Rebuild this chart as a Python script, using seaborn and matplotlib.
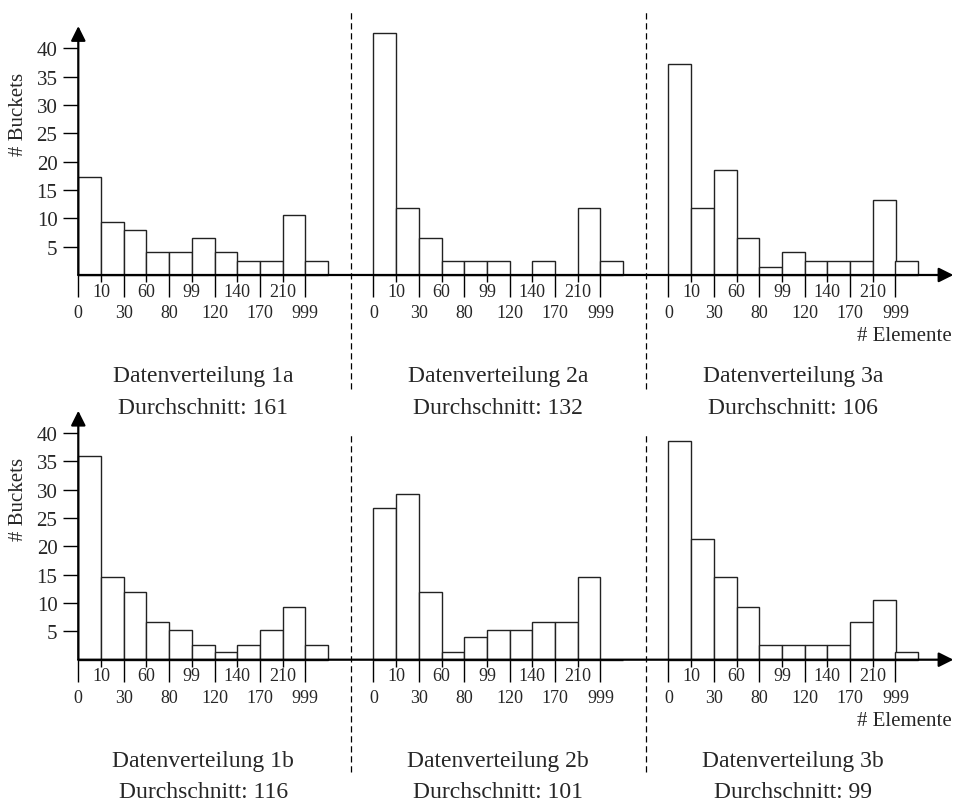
import numpy as np
import pandas as pd
import matplotlib
matplotlib.use("Agg")
import matplotlib.pyplot as plt
import seaborn as sns
from matplotlib.ticker import FixedLocator, FixedFormatter

# ---------------- data ----------------
bucket_edges = ["0", "10", "30", "60", "80", "99", "120", "140", "170", "210", "999"]
panel_names = ["1a", "2a", "3a", "1b", "2b", "3b"]
averages = [161, 132, 106, 116, 101, 99]
counts_1a = [17.2, 9.3, 8.0, 4.0, 4.0, 6.6, 4.0, 2.5, 2.5, 10.6, 2.5]
counts_2a = [42.6, 11.9, 6.6, 2.5, 2.5, 2.5, 0.0, 2.5, 0.0, 11.9, 2.5]
counts_3a = [37.3, 11.9, 18.6, 6.6, 1.35, 4.0, 2.5, 2.5, 2.5, 13.3, 2.5]
counts_1b = [36.0, 14.6, 12.0, 6.6, 5.3, 2.65, 1.3, 2.65, 5.3, 9.3, 2.65]
counts_2b = [26.7, 29.3, 12.0, 1.3, 3.95, 5.3, 5.3, 6.6, 6.6, 14.6, 0.0]
counts_3b = [38.6, 21.3, 14.6, 9.3, 2.6, 2.6, 2.6, 2.6, 6.6, 10.6, 1.3]
y_ticks = [5, 10, 15, 20, 25, 30, 35, 40]
y_label = "# Buckets"
x_label = "# Elemente"

rows = [[counts_1a, counts_2a, counts_3a], [counts_1b, counts_2b, counts_3b]]

# ---------------- style ----------------
sns.set_style("white")
plt.rcParams["font.family"] = ["Liberation Serif", "DejaVu Serif"]

W, H = 956, 803
fig = plt.figure(figsize=(W / 100, H / 100), dpi=100)

n_bins = len(bucket_edges)
panel_step = n_bins + 2          # 13 units between panel origins
px_per_x = 22.7
x0_px = 78.3
px_per_y = 5.67

row_specs = [
    # (axes top px, axes bottom px, baseline px)
    (0, 400, 276.0),
    (400, 803, 660.7),
]

for r, (top_px, bot_px, base_px) in enumerate(row_specs):
    ax = fig.add_axes([0, (H - bot_px) / H, 1, (bot_px - top_px) / H])
    recs = []
    for p, counts in enumerate(rows[r]):
        off = p * panel_step
        for i, c in enumerate(counts):
            recs.append({"pos": off + i + 0.5, "count": c})
    df = pd.DataFrame(recs)
    sns.barplot(data=df, x="pos", y="count", native_scale=True, width=1.0,
                color="white", saturation=1, edgecolor="#222222", linewidth=1.0,
                ax=ax, errorbar=None)

    ax.set_xlim(-x0_px / px_per_x, (W - x0_px) / px_per_x)
    ax.set_ylim(-(bot_px - base_px) / px_per_y, (base_px - top_px) / px_per_y)
    ax.set_xlabel("")
    ax.set_ylabel("")
    ax.set_facecolor("none")
    for s in ["top", "right"]:
        ax.spines[s].set_visible(False)
    ax.spines["left"].set_position(("data", 0))
    ax.spines["bottom"].set_position(("data", 0))
    ax.spines["left"].set_color("none")
    ax.spines["bottom"].set_color("none")

    # axis arrows
    ax.annotate("", xy=(38.55, 0), xytext=(0, 0),
                arrowprops=dict(arrowstyle="-|>", lw=1.6, color="black",
                                mutation_scale=22, shrinkA=0, shrinkB=0))
    ax.annotate("", xy=(0, 43.9), xytext=(0, 0),
                arrowprops=dict(arrowstyle="-|>", lw=1.6, color="black",
                                mutation_scale=22, shrinkA=0, shrinkB=0))

    # y ticks
    ax.yaxis.set_major_locator(FixedLocator(y_ticks))
    ax.yaxis.set_major_formatter(FixedFormatter([str(t) for t in y_ticks]))
    ax.tick_params(axis="y", which="major", direction="out", length=11, width=1,
                   color="black", labelsize=15, pad=4, left=True)

    # x ticks: lower row (major) and upper row (minor)
    major_pos, major_lab, minor_pos, minor_lab = [], [], [], []
    for p in range(3):
        off = p * panel_step
        for i, lab in enumerate(bucket_edges):
            if i % 2 == 0:
                major_pos.append(off + i)
                major_lab.append(lab)
            else:
                minor_pos.append(off + i)
                minor_lab.append(lab)
    ax.xaxis.set_major_locator(FixedLocator(major_pos))
    ax.xaxis.set_major_formatter(FixedFormatter(major_lab))
    ax.xaxis.set_minor_locator(FixedLocator(minor_pos))
    ax.xaxis.set_minor_formatter(FixedFormatter(minor_lab))
    ax.tick_params(axis="x", which="major", direction="out", length=16, width=1,
                   color="black", labelsize=13, pad=5, bottom=True)
    ax.tick_params(axis="x", which="minor", direction="out", length=5, width=1,
                   color="black", labelsize=13, pad=0.5, bottom=True)

    # dashed separators
    if r == 0:
        y_top, y_bot = (base_px - 13) / px_per_y, (base_px - 390) / px_per_y
    else:
        y_top, y_bot = (base_px - 436) / px_per_y, (base_px - 773) / px_per_y
    for xs in [n_bins + 1, 2 * n_bins + 3]:
        ax.plot([xs, xs], [y_bot, y_top], color="black", lw=0.9,
                ls=(0, (5, 3)), clip_on=False)

    # labels
    ax.text(-2.62, 28.5, y_label, rotation=90, ha="center", va="center", fontsize=15)
    ax.text(38.5, -10.75, x_label, ha="right", va="center", fontsize=15)

    # panel titles
    for p in range(3):
        idx = r * 3 + p
        cx = p * panel_step + n_bins / 2
        ax.text(cx, -17.7, f"Datenverteilung {panel_names[idx]}", ha="center",
                va="center", fontsize=17)
        ax.text(cx, -23.3, f"Durchschnitt: {averages[idx]}", ha="center",
                va="center", fontsize=17)

fig.savefig("out.png", dpi=100)
